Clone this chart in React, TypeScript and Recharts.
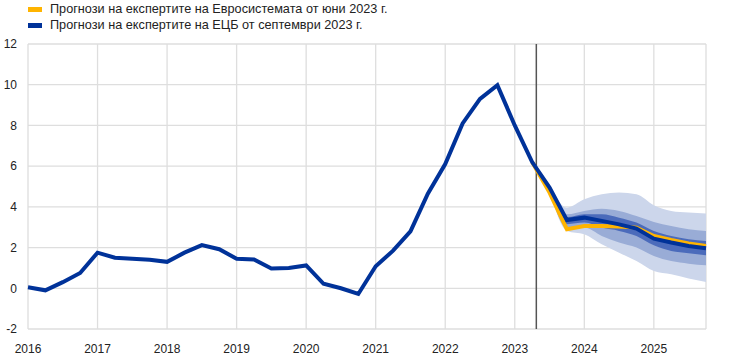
import React from 'react';
import { ComposedChart, Line, Area, XAxis, YAxis, CartesianGrid, ReferenceLine } from 'recharts';

const quarters = [
  2016, 2016.25, 2016.5, 2016.75,
  2017, 2017.25, 2017.5, 2017.75,
  2018, 2018.25, 2018.5, 2018.75,
  2019, 2019.25, 2019.5, 2019.75,
  2020, 2020.25, 2020.5, 2020.75,
  2021, 2021.25, 2021.5, 2021.75,
  2022, 2022.25, 2022.5, 2022.75,
  2023, 2023.25, 2023.5, 2023.75,
  2024, 2024.25, 2024.5, 2024.75,
  2025, 2025.25, 2025.5, 2025.75,
];

const septemberEcb = [
  0.05, -0.1, 0.3, 0.75,
  1.75, 1.5, 1.45, 1.4,
  1.3, 1.75, 2.12, 1.92,
  1.45, 1.42, 0.97, 1.0,
  1.12, 0.22, 0.0, -0.28,
  1.08, 1.85, 2.8, 4.65,
  6.1, 8.1, 9.3, 9.98,
  8.0, 6.2, 4.95, 3.35,
  3.47, 3.31, 3.14, 2.93,
  2.44, 2.25, 2.08, 1.97,
];

const juneEurosystem: (number | null)[] = [
  null, null, null, null,
  null, null, null, null,
  null, null, null, null,
  null, null, null, null,
  null, null, null, null,
  null, null, null, null,
  null, null, null, null,
  null, 6.2, 4.7, 2.9,
  3.06, 3.06, 3.04, 2.98,
  2.57, 2.37, 2.2, 2.08,
];

// projection ranges, starting at 2023.5
const bandStart = 30;
const outerLow = [4.8, 2.82, 2.65, 2.16, 1.75, 1.34, 0.85, 0.69, 0.48, 0.31];
const outerHigh = [5.05, 3.96, 4.37, 4.62, 4.7, 4.62, 4.08, 3.8, 3.72, 3.67];
const midLow = [4.85, 2.98, 2.98, 2.57, 2.25, 2.0, 1.59, 1.34, 1.21, 1.13];
const midHigh = [5.0, 3.64, 3.8, 3.91, 3.8, 3.55, 3.26, 3.06, 2.9, 2.82];
const innerLow = [4.88, 3.15, 3.23, 2.98, 2.82, 2.57, 2.11, 1.83, 1.72, 1.62];
const innerHigh = [4.98, 3.5, 3.64, 3.64, 3.47, 3.23, 2.82, 2.57, 2.41, 2.32];

const xTicks = [2016, 2017, 2018, 2019, 2020, 2021, 2022, 2023, 2024, 2025];
const yTicks = [-2, 0, 2, 4, 6, 8, 10, 12];
const cutoff = 2023.31;

const legendItems = [
  { label: 'Прогнози на експертите на Евросистемата от юни 2023 г.', color: '#ffb400' },
  { label: 'Прогнози на експертите на ЕЦБ от септември 2023 г.', color: '#003299' },
];

const data = quarters.map((x, i) => {
  const j = i - bandStart;
  const hasBand = j >= 0 && j < outerLow.length;
  return {
    x,
    ecb: septemberEcb[i],
    june: juneEurosystem[i],
    outer: hasBand ? [outerLow[j], outerHigh[j]] : null,
    mid: hasBand ? [midLow[j], midHigh[j]] : null,
    inner: hasBand ? [innerLow[j], innerHigh[j]] : null,
  };
});

const font = '"Liberation Sans", Arial, sans-serif';

export default function App() {
  return (
    <div style={{ position: 'absolute', left: 0, top: 0, width: 733, height: 359, fontFamily: font }}>
      <ComposedChart
        width={733}
        height={359}
        data={data}
        margin={{ top: 44, right: 27, bottom: 0, left: 0 }}
      >
        <CartesianGrid stroke="#dedede" strokeWidth={1.3} vertical={true} horizontal={true} />
        <XAxis
          dataKey="x"
          type="number"
          domain={[2016, 2025.75]}
          ticks={xTicks}
          tickLine={false}
          axisLine={false}
          tickMargin={9}
          height={30}
          interval={0}
          tick={{ fill: '#222', fontSize: 12, fontFamily: font }}
        />
        <YAxis
          domain={[-2, 12]}
          ticks={yTicks}
          tickLine={false}
          axisLine={false}
          tickMargin={11}
          tickSize={0}
          width={28}
          interval={0}
          tick={{ fill: '#222', fontSize: 12, fontFamily: font }}
        />
        <Area dataKey="outer" stroke="none" fill="#ccd6eb" fillOpacity={1} isAnimationActive={false} type="monotone" connectNulls={false} />
        <Area dataKey="mid" stroke="none" fill="#99acd6" fillOpacity={1} isAnimationActive={false} type="monotone" connectNulls={false} />
        <Area dataKey="inner" stroke="none" fill="#4b6bbb" fillOpacity={1} isAnimationActive={false} type="monotone" connectNulls={false} />
        <ReferenceLine x={cutoff} stroke="#555555" strokeWidth={1.5} />
        <Line dataKey="june" stroke="#ffb400" strokeWidth={4} dot={false} isAnimationActive={false} type="linear" connectNulls={false} />
        <Line dataKey="ecb" stroke="#003299" strokeWidth={4} dot={false} isAnimationActive={false} type="linear" />
      </ComposedChart>
      <div style={{ position: 'absolute', left: 28, top: 1, fontSize: 12.7, color: '#222', lineHeight: '16px' }}>
        {legendItems.map((it) => (
          <div key={it.label} style={{ display: 'flex', alignItems: 'center', height: 16 }}>
            <span style={{ display: 'inline-block', width: 14, height: 5, background: it.color, marginRight: 8 }} />
            <span>{it.label}</span>
          </div>
        ))}
      </div>
    </div>
  );
}
